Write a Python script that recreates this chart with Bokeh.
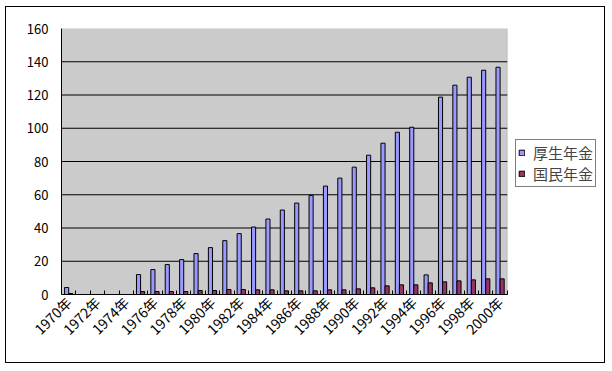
import math
from bokeh.plotting import figure
from bokeh.models import (ColumnDataSource, Range1d, FixedTicker, BoxAnnotation,
                          Legend, LegendItem)
from bokeh.transform import dodge
from bokeh.embed import file_html
from bokeh.resources import INLINE

years = [str(y) + "年" for y in range(1970, 2001)]
kosei = [4.2, 0, 0, 0, 0, 12.0, 15.0, 18.0, 21.0, 24.6, 28.2, 32.4, 36.6,
         40.6, 45.4, 50.8, 55.0, 59.6, 65.2, 70.0, 76.6, 83.8, 91.0, 97.6,
         100.6, 11.8, 118.7, 125.9, 130.7, 134.9, 136.7]
kokumin = [0.6, 0, 0, 0, 0, 1.8, 1.8, 1.8, 1.8, 2.4, 2.4, 3.0, 3.0,
           2.8, 2.8, 2.2, 2.2, 2.2, 2.8, 2.8, 3.4, 4.0, 5.2, 5.8,
           5.8, 7.0, 7.6, 8.2, 8.8, 9.4, 9.4]
y_ticks = [0, 20, 40, 60, 80, 100, 120, 140, 160]
grid_ticks = [20, 40, 60, 80, 100, 120, 140]
series_names = ["厚生年金", "国民年金"]
series_colors = ["#9999FF", "#993366"]

FONT = "Noto Sans CJK JP"
n = len(years)
idx = list(range(n))
x_lo, x_hi = -0.5, n - 0.5

src = ColumnDataSource(dict(x=idx, year=years, kosei=kosei, kokumin=kokumin))

# frame extends under the legend; plot area (gray) covers only the categories
extra = 6.9  # category widths of room on the right for the legend
p = figure(width=600, height=357, x_range=Range1d(x_lo, x_hi + extra),
           y_range=Range1d(y_ticks[0], y_ticks[-1]), output_backend="svg",
           toolbar_location=None, min_border_left=55, min_border_right=0,
           min_border_top=21, min_border_bottom=70)
p.styles = {"border": "1px solid black", "margin-left": "5px", "margin-top": "6px"}
p.background_fill_color = "white"
p.border_fill_color = "white"
p.outline_line_color = None

p.add_layout(BoxAnnotation(left=x_lo, right=x_hi, bottom=y_ticks[0], top=y_ticks[-1],
                           fill_color="#CBCBCB", fill_alpha=1, line_color="#808080",
                           line_width=1, level="underlay"))

# horizontal gridlines only across the plot area
p.segment(x0=[x_lo] * len(grid_ticks), x1=[x_hi] * len(grid_ticks),
          y0=grid_ticks, y1=grid_ticks, line_color="black", line_width=1)

bw = 0.286
r1 = p.vbar(x=dodge("x", -bw / 2), top="kosei", width=bw, source=src,
            fill_color=series_colors[0], line_color="black", line_width=1)
r2 = p.vbar(x=dodge("x", bw / 2), top="kokumin", width=bw, source=src,
            fill_color=series_colors[1], line_color="black", line_width=1)

# axes
p.yaxis.ticker = FixedTicker(ticks=y_ticks)
p.yaxis.major_tick_out = 0
p.yaxis.major_tick_in = 0
p.yaxis.minor_tick_line_color = None
p.yaxis.axis_line_color = "black"
p.yaxis.major_label_text_font = FONT
p.yaxis.major_label_text_font_size = "13px"
p.yaxis.major_label_text_color = "black"
p.yaxis.major_label_standoff = 13

p.xaxis.bounds = (x_lo, x_hi)
p.xaxis.ticker = FixedTicker(ticks=idx[::2], minor_ticks=[i + 0.5 for i in idx])
p.xaxis.major_tick_out = 0
p.xaxis.major_tick_in = 0
p.xaxis.minor_tick_out = 0
p.xaxis.minor_tick_in = 4
p.xaxis.minor_tick_line_color = "black"
p.xaxis.axis_line_color = "black"
p.xaxis.major_label_overrides = {i: years[i] for i in idx[::2]}
p.xaxis.major_label_orientation = math.pi / 4
p.xaxis.major_label_text_font = FONT
p.xaxis.major_label_text_font_size = "14px"
p.xaxis.major_label_text_color = "black"
p.xaxis.major_label_standoff = 5

p.xgrid.grid_line_color = None
p.ygrid.grid_line_color = None

legend = Legend(items=[LegendItem(label=series_names[0], renderers=[r1]),
                       LegendItem(label=series_names[1], renderers=[r2])],
                location=(454, 107))
legend.label_text_font = FONT
legend.label_text_font_size = "15px"
legend.label_height = 16
legend.glyph_width = 7
legend.glyph_height = 7
legend.label_standoff = 8
legend.spacing = 0
legend.padding = 2
legend.margin = 0
legend.border_line_color = "black"
legend.border_line_width = 1
legend.background_fill_color = "white"
legend.background_fill_alpha = 1
p.add_layout(legend)

open("out.html", "w").write(file_html(p, INLINE))
